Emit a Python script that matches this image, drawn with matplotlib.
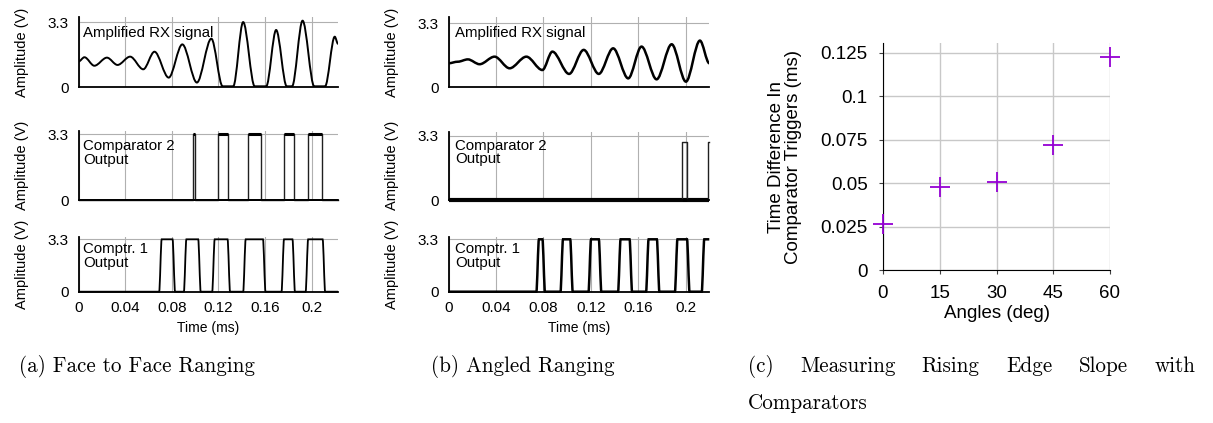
import matplotlib
matplotlib.use("Agg")
import matplotlib.pyplot as plt
from matplotlib.path import Path
from matplotlib.patches import PathPatch
from matplotlib.ticker import FuncFormatter

# --- (a) Face to Face Ranging: amplified RX signal, read at the extrema (ms, V)
rx_a_t = [0, 0.0051, 0.0136, 0.0244, 0.0335, 0.0443, 0.0556, 0.0652, 0.0774, 0.0891,
          0.1016, 0.1140, 0.1237, 0.1328, 0.1413, 0.1512, 0.1611, 0.1696, 0.1787,
          0.1833, 0.1923, 0.2023, 0.2116, 0.2199, 0.2227]
rx_a_v = [1.30, 1.52, 1.09, 1.50, 1.13, 1.55, 0.91, 1.80, 0.49, 2.17,
          0.24, 2.46, 0.05, 0.05, 3.30, 0.05, 0.05, 2.90, 0.05,
          0.05, 3.37, 0.05, 0.05, 2.56, 2.20]

# comparator edges (ms)
comp2_a_rise = [0.0979, 0.1194, 0.1451, 0.1767, 0.1971]
comp2_a_fall = [0.0999, 0.1285, 0.1563, 0.1848, 0.2091]
comp1_a_rise = [0.0703, 0.0915, 0.1158, 0.1424, 0.1753, 0.1960]
comp1_a_fall = [0.0818, 0.1038, 0.1290, 0.1594, 0.1847, 0.2106]

# --- (b) Angled Ranging
rx_b_t = [0, 0.0079, 0.0163, 0.0262, 0.0388, 0.0515, 0.0656, 0.0791, 0.0875, 0.1016,
          0.1139, 0.1266, 0.1387, 0.1514, 0.1626, 0.1753, 0.1880, 0.2000, 0.2118, 0.2197]
rx_b_v = [1.24, 1.32, 1.44, 1.19, 1.58, 0.98, 1.58, 0.89, 1.84, 0.69,
          1.93, 0.69, 2.01, 0.46, 2.10, 0.41, 2.22, 0.29, 2.41, 1.24]

comp2_b_rise = [0.1964, 0.2190]
comp2_b_fall = [0.2005]
comp2_b_high = 2.97
comp1_b_rise = [0.0751, 0.0954, 0.1190, 0.1439, 0.1675, 0.1918, 0.2144]
comp1_b_fall = [0.0802, 0.1036, 0.1277, 0.1536, 0.1766, 0.2020]

comp_high = 3.3
comp1_edge = 0.0022   # transition width of comparator 1 (ms)
t_end_a = 0.2227
t_end_b = 0.2197

# --- (c) rising edge slope
angles = [0, 15, 30, 45, 60]
time_diff = [0.0265, 0.0475, 0.0504, 0.0719, 0.1227]

W, H = 1213, 423
fig = plt.figure(figsize=(W / 100, H / 100), dpi=100)
plt.rcParams['font.family'] = ['Liberation Sans', 'DejaVu Sans']

def px_axes(l, t, r, b):
    return fig.add_axes([l / W, 1 - b / H, (r - l) / W, (b - t) / H])

def smooth_path(t, v):
    # cubic segments with flat tangents at every read point
    verts = [(t[0], v[0])]
    codes = [Path.MOVETO]
    for i in range(1, len(t)):
        dt = t[i] - t[i - 1]
        verts += [(t[i - 1] + dt / 3, v[i - 1]), (t[i] - dt / 3, v[i]), (t[i], v[i])]
        codes += [Path.CURVE4] * 3
    return Path(verts, codes)

def edges_points(rise, fall, high, width, t_end):
    t, v = [0], [0]
    for i, r in enumerate(rise):
        t += [r - width / 2, r + width / 2]
        v += [0, high]
        if i < len(fall):
            t += [fall[i] - width / 2, fall[i] + width / 2]
            v += [high, 0]
    t.append(t_end)
    v.append(v[-1])
    return t, v

def step_points(rise, fall, high, t_end):
    t, v = [0], [0]
    for i, r in enumerate(rise):
        t.append(r); v.append(high)
        if i < len(fall):
            t.append(fall[i]); v.append(0)
    t.append(t_end); v.append(v[-1])
    return t, v

gfmt = FuncFormatter(lambda x, _: f'{x:g}')

def style_scope(ax, xmax, ymax, bottom):
    ax.set_xlim(0, xmax)
    ax.set_ylim(0, ymax)
    ax.set_yticks([0, 3.3])
    ax.set_xticks([0, 0.04, 0.08, 0.12, 0.16, 0.2])
    ax.xaxis.set_major_formatter(gfmt)
    ax.yaxis.set_major_formatter(gfmt)
    ax.grid(True, color='#b0b0b0', lw=0.8)
    ax.set_axisbelow(True)
    for s in ['top', 'right']:
        ax.spines[s].set_visible(False)
    for s in ['left', 'bottom']:
        ax.spines[s].set_linewidth(1.3)
    ax.tick_params(length=0, pad=7, labelsize=11)
    if not bottom:
        ax.tick_params(labelbottom=False)
    else:
        ax.set_xlabel('Time (ms)', fontsize=10, labelpad=4)
    ax.set_ylabel('Amplitude (V)', fontsize=10.5)
    ax.yaxis.set_label_coords(-0.19, 0.5)

def scope_column(x0, x1, tops, ymaxs, xmax, rx_t, rx_v, rx_lw,
                 c2_rise, c2_fall, c2_high, c2_base_lw, c1_rise, c1_fall, c1_lw, tx, ty):
    axs = []
    for (t, b), ym, bottom in zip(tops, ymaxs, [False, False, True]):
        ax = px_axes(x0, t, x1, b)
        style_scope(ax, xmax, ym, bottom)
        axs.append(ax)
    a1, a2, a3 = axs
    a1.add_patch(PathPatch(smooth_path(rx_t, rx_v), fill=False, ec='black', lw=rx_lw,
                           capstyle='round', joinstyle='round'))
    a1.text(tx, ty[0], 'Amplified RX signal', transform=a1.transAxes, fontsize=10.8, va='center')

    st, sv = step_points(c2_rise, c2_fall, c2_high, xmax)
    a2.plot([0, xmax], [0, 0], color='black', lw=c2_base_lw, solid_capstyle='butt', clip_on=False)
    a2.plot(st, sv, drawstyle='steps-post', color='#202020', lw=1.0, clip_on=False)
    a2.text(tx, ty[1], 'Comparator 2\nOutput', transform=a2.transAxes, fontsize=10.8,
            va='center', linespacing=0.95)

    ct, cv = edges_points(c1_rise, c1_fall, comp_high, comp1_edge, xmax)
    a3.add_patch(PathPatch(smooth_path(ct, cv), fill=False, ec='black', lw=c1_lw, clip_on=False))
    a3.text(tx, ty[2], 'Comptr. 1\nOutput', transform=a3.transAxes, fontsize=10.8,
            va='center', linespacing=0.95)
    return axs

axs_a = scope_column(78.5, 338, [(16.7, 87.3), (130.7, 200), (236.7, 291.7)],
                     [3.57, 3.466, 3.464], t_end_a, rx_a_t, rx_a_v, 1.4,
                     comp2_a_rise, comp2_a_fall, comp_high, 1.4,
                     comp1_a_rise, comp1_a_fall, 1.3, 0.018, [0.77, 0.68, 0.65])
# thick tops of comparator 2 pulses in (a)
axs_a[1].hlines([comp_high] * len(comp2_a_rise), comp2_a_rise, comp2_a_fall, color='black', lw=2.2)

axs_b = scope_column(448.5, 709.3, [(17.3, 87.3), (131.7, 200), (236.7, 291.7)],
                     [3.61, 3.52, 3.464], t_end_b, rx_b_t, rx_b_v, 1.8,
                     comp2_b_rise, comp2_b_fall, comp2_b_high, 3.0,
                     comp1_b_rise, comp1_b_fall, 1.8, 0.025, [0.776, 0.695, 0.65])

# --- panel (c)
axc = px_axes(883, 43.3, 1110, 270)
axc.plot(angles, time_diff, linestyle='none', marker='+', color='#9400d3',
         markersize=15, markeredgewidth=1.3, clip_on=False, zorder=3)
axc.set_xlim(0, 60)
axc.set_ylim(0, 0.1304)
axc.set_xticks([0, 15, 30, 45, 60])
axc.set_yticks([0, 0.025, 0.05, 0.075, 0.1, 0.125])
axc.yaxis.set_major_formatter(gfmt)
axc.grid(True, color='#c8c8c8', lw=1.0)
axc.set_axisbelow(True)
for s in ['top', 'right']:
    axc.spines[s].set_visible(False)
axc.tick_params(length=3, labelsize=13.5, pad=8, color='#404040')
axc.set_xlabel('Angles (deg)', fontsize=13.5, labelpad=2)
axc.set_ylabel('Time Difference In\nComparator Triggers (ms)', fontsize=13.5, linespacing=1.0)
axc.yaxis.set_label_coords(-0.357, 0.5)

# --- captions
cap = dict(family='cmr10', fontsize=15.2, va='center')
fig.text(19 / W, 1 - 366 / H, '(a) Face to Face Ranging', **cap)
fig.text(431 / W, 1 - 366 / H, '(b) Angled Ranging', **cap)
fig.text(748 / W, 1 - 403 / H, 'Comparators', **cap)

# first line of caption (c) is justified between x=748 and x=1195
renderer = fig.canvas.get_renderer()
words = '(c) Measuring Rising Edge Slope with'.split()
texts = [fig.text(0, 1 - 366 / H, w, **cap) for w in words]
widths = [t.get_window_extent(renderer).width for t in texts]
gap = (1195 - 748 - sum(widths)) / (len(words) - 1)
x = 748
for t, w in zip(texts, widths):
    t.set_x(x / W)
    x += w + gap

fig.savefig('out.png', dpi=100)
